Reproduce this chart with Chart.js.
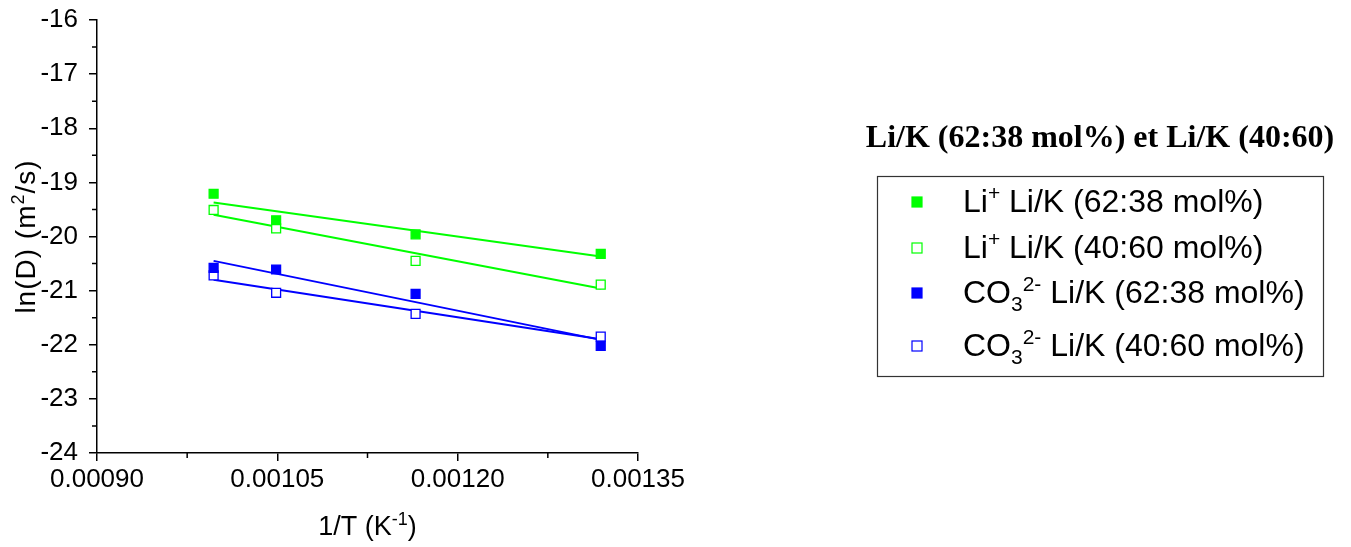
<!DOCTYPE html>
<html>
<head>
<meta charset="utf-8">
<script src="https://cdn.jsdelivr.net/npm/chart.js@4"></script>
<style>
  html, body { margin: 0; padding: 0; background: #fff; }
  #wrap { width: 1351px; height: 547px; }
</style>
</head>
<body>
<div id="wrap"><canvas id="chart" width="1351" height="547"></canvas></div>
<script>
// 1/T values (K^-1)
const invT = [0.000997, 0.001049, 0.001165, 0.001319];

// ln(D) values
const liHigh = [-19.21, -19.70, -19.96, -20.32];   // Li+  Li/K (62:38)
const liLow = [-19.51, -19.85, -20.45, -20.89];    // Li+  Li/K (40:60)
const co3High = [-20.58, -20.61, -21.06, -22.02];  // CO3  Li/K (62:38)
const co3Low = [-20.72, -21.04, -21.43, -21.85];   // CO3  Li/K (40:60)

// linear fit end points (first and last 1/T)
const fitLiHigh = [-19.37, -20.37];
const fitLiLow = [-19.60, -20.96];
const fitCo3High = [-20.45, -21.91];
const fitCo3Low = [-20.80, -21.90];

// ticks
const xTicks = [0.00090, 0.000975, 0.00105, 0.001125, 0.00120, 0.001275, 0.00135];
const xLabels = ['0.00090', '', '0.00105', '', '0.00120', '', '0.00135'];
const yTicks = [-24, -23.5, -23, -22.5, -22, -21.5, -21, -20.5, -20, -19.5, -19, -18.5, -18, -17.5, -17, -16.5, -16];

const legendTitle = 'Li/K (62:38 mol%) et Li/K (40:60)';
const legendRows = [
    [{t: 'Li'}, {t: '+', sup: true}, {t: ' Li/K (62:38 mol%)'}],
    [{t: 'Li'}, {t: '+', sup: true}, {t: ' Li/K (40:60 mol%)'}],
    [{t: 'CO'}, {t: '3', sub: true}, {t: '2-', sup: true}, {t: ' Li/K (62:38 mol%)'}],
    [{t: 'CO'}, {t: '3', sub: true}, {t: '2-', sup: true}, {t: ' Li/K (40:60 mol%)'}]
];
const yTitle = [{t: 'ln(D) (m'}, {t: '2', sup: true}, {t: '/s)'}];
const xTitle = [{t: '1/T (K'}, {t: '-1', sup: true}, {t: ')'}];

const GREEN = '#00ff00';
const BLUE = '#0000ff';
const SANS = '"Liberation Sans", Arial, sans-serif';

function pts(ys) {
    return ys.map((y, i) => ({x: invT[i], y: y}));
}
function fitPts(ys) {
    return [{x: invT[0], y: ys[0]}, {x: invT[invT.length - 1], y: ys[1]}];
}

function pointSet(label, ys, color, filled) {
    return {
        label: label,
        data: pts(ys),
        showLine: false,
        pointStyle: 'rect',
        pointRadius: 6.3,
        pointHoverRadius: 6.3,
        borderWidth: 1.3,
        borderColor: color,
        backgroundColor: filled ? color : '#ffffff',
        order: 1
    };
}
function fitSet(ys, color) {
    return {
        data: fitPts(ys),
        showLine: true,
        pointRadius: 0,
        borderWidth: 2,
        borderColor: color,
        backgroundColor: color,
        order: 2
    };
}

// draw text made of plain / superscript / subscript pieces
function richWidth(ctx, segs, size) {
    let w = 0;
    segs.forEach(s => {
        ctx.font = ((s.sup || s.sub) ? Math.round(size * 0.65) : size) + 'px ' + SANS;
        w += ctx.measureText(s.t).width;
    });
    return w;
}
function drawRich(ctx, segs, x, y, size) {
    let cx = x;
    segs.forEach(s => {
        const small = s.sup || s.sub;
        ctx.font = (small ? Math.round(size * 0.65) : size) + 'px ' + SANS;
        let dy = 0;
        if (s.sup) dy = -size * 0.38;
        if (s.sub) dy = size * 0.25;
        ctx.fillText(s.t, cx, y + dy);
        cx += ctx.measureText(s.t).width;
    });
}

const extras = {
    id: 'extras',
    afterDraw(chart) {
        const ctx = chart.ctx;
        const xs = chart.scales.x, ys = chart.scales.y;
        const area = chart.chartArea;
        ctx.save();
        ctx.fillStyle = '#000';
        ctx.textBaseline = 'alphabetic';
        ctx.textAlign = 'left';

        // minor ticks
        ctx.strokeStyle = '#000';
        ctx.lineWidth = 1.5;
        ctx.beginPath();
        xTicks.forEach((v, i) => {
            if (xLabels[i] !== '') return;
            const px = xs.getPixelForValue(v);
            ctx.moveTo(px, area.bottom);
            ctx.lineTo(px, area.bottom + 5);
        });
        yTicks.forEach(v => {
            if (Number.isInteger(v)) return;
            const py = ys.getPixelForValue(v);
            ctx.moveTo(area.left, py);
            ctx.lineTo(area.left - 5, py);
        });
        ctx.stroke();

        // axis titles
        let size = 27;
        let w = richWidth(ctx, xTitle, size);
        drawRich(ctx, xTitle, (area.left + area.right) / 2 - w / 2, 535, size);

        ctx.save();
        ctx.translate(35, (area.top + area.bottom) / 2);
        ctx.rotate(-Math.PI / 2);
        size = 28;
        ctx.letterSpacing = '1px';
        w = richWidth(ctx, yTitle, size);
        drawRich(ctx, yTitle, -w / 2, 0, size);
        ctx.restore();

        // legend title
        ctx.font = 'bold 32px "Liberation Serif", "Times New Roman", serif';
        ctx.textAlign = 'center';
        ctx.fillText(legendTitle, 1100, 147);
        ctx.textAlign = 'left';

        // legend box
        ctx.strokeStyle = '#333';
        ctx.lineWidth = 1.2;
        ctx.strokeRect(877.5, 176.5, 446, 200);

        const baselines = [212, 258, 303, 356];
        chart.data.datasets.slice(0, 4).forEach((ds, i) => {
            const my = baselines[i] - 10;
            ctx.fillStyle = ds.backgroundColor;
            ctx.fillRect(912, my - 5, 10, 10);
            ctx.strokeStyle = ds.borderColor;
            ctx.lineWidth = 1.2;
            ctx.strokeRect(912, my - 5, 10, 10);
            ctx.fillStyle = '#000';
            drawRich(ctx, legendRows[i], 963, baselines[i], 32);
        });
        ctx.restore();
    }
};

new Chart(document.getElementById('chart'), {
    type: 'scatter',
    data: {
        datasets: [
            pointSet('Li+ Li/K (62:38 mol%)', liHigh, GREEN, true),
            pointSet('Li+ Li/K (40:60 mol%)', liLow, GREEN, false),
            pointSet('CO3 2- Li/K (62:38 mol%)', co3High, BLUE, true),
            pointSet('CO3 2- Li/K (40:60 mol%)', co3Low, BLUE, false),
            fitSet(fitLiHigh, GREEN),
            fitSet(fitLiLow, GREEN),
            fitSet(fitCo3High, BLUE),
            fitSet(fitCo3Low, BLUE)
        ]
    },
    options: {
        responsive: false,
        animation: false,
        layout: {padding: {left: 0, top: 20, right: 713, bottom: 0}},
        plugins: {legend: {display: false}, tooltip: {enabled: false}},
        scales: {
            x: {
                type: 'linear',
                min: 0.00090,
                max: 0.00135,
                afterBuildTicks: s => { s.ticks = xTicks.map(v => ({value: v})); },
                afterFit: s => { s.height = 94; s.paddingLeft = 0; s.paddingRight = 0; },
                ticks: {
                    autoSkip: false,
                    maxRotation: 0,
                    padding: 3,
                    color: '#000',
                    font: {family: SANS, size: 26},
                    callback: (v, i) => xLabels[i]
                },
                grid: {
                    drawOnChartArea: false,
                    tickLength: 8,
                    lineWidth: 1.5,
                    color: c => (c.tick && xLabels[c.index] !== '') ? '#000' : 'rgba(0,0,0,0)'
                },
                border: {display: true, color: '#000', width: 1.5}
            },
            y: {
                type: 'linear',
                min: -24,
                max: -16,
                afterBuildTicks: s => { s.ticks = yTicks.map(v => ({value: v})); },
                afterFit: s => { s.width = 97; s.paddingTop = 0; s.paddingBottom = 0; },
                ticks: {
                    autoSkip: false,
                    padding: 11,
                    color: '#000',
                    font: {family: SANS, size: 26},
                    callback: v => Number.isInteger(v) ? String(v) : ''
                },
                grid: {
                    drawOnChartArea: false,
                    tickLength: 8,
                    lineWidth: 1.5,
                    color: c => (c.tick && Number.isInteger(c.tick.value)) ? '#000' : 'rgba(0,0,0,0)'
                },
                border: {display: true, color: '#000', width: 1.5}
            }
        }
    },
    plugins: [extras]
});
</script>
</body>
</html>
